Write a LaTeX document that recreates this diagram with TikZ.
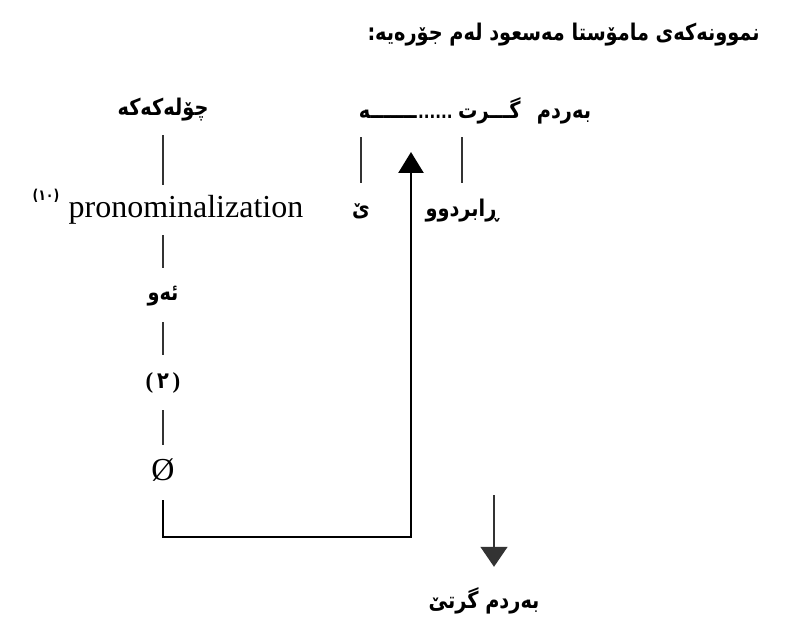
\documentclass[tikz,border=0pt]{standalone}
\usepackage{fontspec}
\setmainfont{Liberation Serif}
\newfontfamily\arfont[Script=Arabic, FakeStretch=0.84]{DejaVu Sans}
\TeXXeTstate=1
\usetikzlibrary{arrows.meta}
\newcommand{\AR}[1]{\beginR #1\endR}
\begin{document}
\begin{tikzpicture}[x=1pt,y=-1pt,
  ar/.style={font={\arfont\bfseries\fontsize{23}{27}\selectfont}, inner sep=0pt, text height=17pt, text depth=6pt},
  lat/.style={font={\fontsize{32}{36}\selectfont}, inner sep=0pt, text height=22pt, text depth=7pt},
  link/.style={draw=black!80, line width=1.5pt},
  route/.style={draw=black, line width=2.6pt, line join=miter},
  uptipstyle/.style={-{Triangle[width=25pt,length=21pt]}},
  downtipstyle/.style={-{Triangle[width=27pt,length=20pt]}}]
\useasboundingbox (0,0) rectangle (787,628);

% title
\node[ar, anchor=east] (title) at (760,35) {\AR{نموونەکەی مامۆستا مەسعود لەم جۆرەیە:}};

% left column
\node[ar, minimum height=50pt] (chol) at (163,110) {\AR{چۆلەکەکە}};
\node[lat, minimum height=50pt] (pron) at (186,210) {pronominalization};
\node[font={\arfont\bfseries\fontsize{15}{17}\selectfont}, inner sep=0pt] (note) at (46,196) {(١٠)};
\node[ar, minimum height=54pt] (ew) at (163,295) {\AR{ئەو}};
\node[ar, minimum height=55pt] (two) at (163,382.5) {{\rmfamily\bfseries(}\,٢\,{\rmfamily\bfseries)}};
\node[lat, minimum height=55pt] (zero) at (163,472.5) {Ø};

\draw[link] (chol.south) -- (chol.south |- pron.north);
\draw[link] (ew.north |- pron.south) -- (ew.north);
\draw[link] (ew.south) -- (two.north);
\draw[link] (two.south) -- (zero.north);

% top row
\node[ar, minimum height=48pt, anchor=east] (he) at (417,113) {\AR{ـــــــە}};
\node[ar, font={\arfont\bfseries\fontsize{18}{22}\selectfont}, anchor=base west] (dots) at ([xshift=1pt]he.base east) {......};
\node[ar, minimum height=48pt, anchor=west] (girt) at (458,113) {\AR{گـــرت}};
\node[ar] (bardm) at (564,113) {\AR{بەردم}};

\node[ar, minimum height=56pt] (ye) at (361,211) {\AR{ێ}};
\node[ar, minimum height=56pt] (rab) at (462,211) {\AR{ڕابردوو}};
\draw[link] (ye.north |- he.south) -- (ye.north);
\draw[link] (rab.north |- girt.south) -- (rab.north);

% route with up arrow
\coordinate (corner) at (411,537);
\coordinate (uptip) at (411,152);
\draw[route, uptipstyle] (zero.south) |- (corner) -- (uptip);

% result with down arrow
\coordinate (dstart) at (494,495);
\node[ar, minimum height=72pt] (res) at (484,603) {\AR{بەردم گرتێ}};
\draw[link, downtipstyle] (dstart) -- (dstart |- res.north);
\end{tikzpicture}
\end{document}
